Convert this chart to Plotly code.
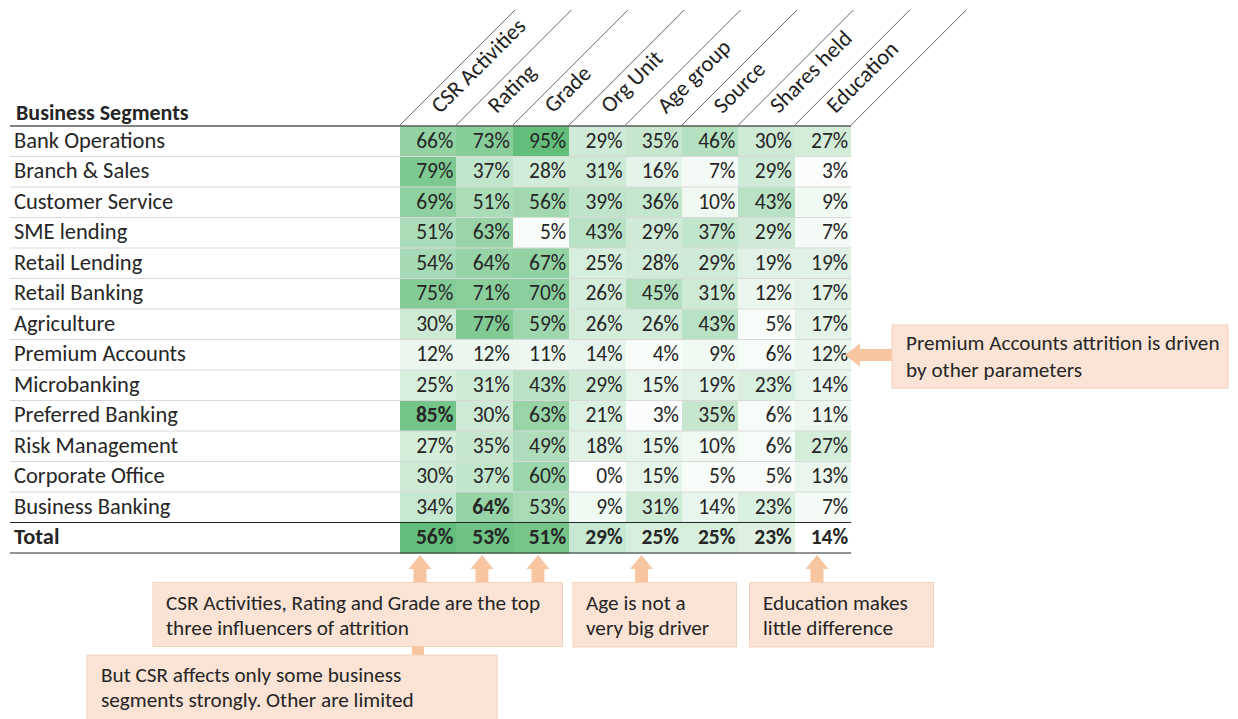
import plotly.graph_objects as go

# ---- data -------------------------------------------------------------
segments = ["Bank Operations", "Branch & Sales", "Customer Service", "SME lending",
            "Retail Lending", "Retail Banking", "Agriculture", "Premium Accounts",
            "Microbanking", "Preferred Banking", "Risk Management", "Corporate Office",
            "Business Banking"]
factors = ["CSR Activities", "Rating", "Grade", "Org Unit", "Age group", "Source",
           "Shares held", "Education"]

csr_activities = [66, 79, 69, 51, 54, 75, 30, 12, 25, 85, 27, 30, 34]
rating = [73, 37, 51, 63, 64, 71, 77, 12, 31, 30, 35, 37, 64]
grade = [95, 28, 56, 5, 67, 70, 59, 11, 43, 63, 49, 60, 53]
org_unit = [29, 31, 39, 43, 25, 26, 26, 14, 29, 21, 18, 0, 9]
age_group = [35, 16, 36, 29, 28, 45, 26, 4, 15, 3, 15, 15, 31]
source = [46, 7, 10, 37, 29, 31, 43, 9, 19, 35, 10, 5, 14]
shares_held = [30, 29, 43, 29, 19, 12, 5, 6, 23, 6, 6, 5, 23]
education = [27, 3, 9, 7, 19, 17, 17, 12, 14, 11, 27, 13, 7]
totals = [56, 53, 51, 29, 25, 25, 23, 14]

highlighted = [("Preferred Banking", "CSR Activities"), ("Business Banking", "Rating")]

callout_top = ["CSR Activities, Rating and Grade are the top", "three influencers of attrition"]
callout_age = ["Age is not a", "very big driver"]
callout_edu = ["Education makes", "little difference"]
callout_csr = ["But CSR affects only some business", "segments strongly. Other are limited"]
callout_premium = ["Premium Accounts attrition is driven", "by other parameters"]

# ---- layout constants -------------------------------------------------
W, H = 1238, 719
FONT = "Calibri, Carlito, Lato, sans-serif"
TXT = "#262626"
GREEN = "#63BE7B"
ARROW = "#F7C6A0"
BOX_FILL = "#FBE4D5"
BOX_LINE = "#F3D2B8"
FS_VAL = 21.5
FS_LBL = 22.5

label_x = 14
col_x0, col_w = 400.0, 56.4
row_y0, row_h = 126.0, 30.5
n_cols, n_rows = len(factors), len(segments)
table_left = 10
table_right = col_x0 + n_cols * col_w
total_top = row_y0 + n_rows * row_h
total_bottom = total_top + row_h

columns = [csr_activities, rating, grade, org_unit, age_group, source, shares_held, education]
z = [[columns[j][i] for j in range(n_cols)] for i in range(n_rows)]
flat = [v for row in z for v in row]

fig = go.Figure()

# body heat map (one colour scale over all segments)
fig.add_trace(go.Heatmap(
    z=z, x0=col_x0 + col_w / 2, dx=col_w, y0=row_y0 + row_h / 2, dy=row_h,
    zmin=min(flat), zmax=max(flat),
    colorscale=[[0, "#FFFFFF"], [1, GREEN]], showscale=False, hoverinfo="skip"))

# total row has its own scale
fig.add_trace(go.Heatmap(
    z=[totals], x0=col_x0 + col_w / 2, dx=col_w, y0=total_top + row_h / 2, dy=row_h,
    zmin=min(totals), zmax=max(totals),
    colorscale=[[0, "#FFFFFF"], [1, GREEN]], showscale=False, hoverinfo="skip"))

# cell values, right aligned in each cell
vx, vy, vt = [], [], []
for i, seg in enumerate(segments):
    for j, fac in enumerate(factors):
        s = f"{z[i][j]}%"
        if (seg, fac) in highlighted:
            s = f"<b>{s}</b>"
        vx.append(col_x0 + (j + 1) * col_w - 3)
        vy.append(row_y0 + (i + 0.5) * row_h + 1)
        vt.append(s)
for j, v in enumerate(totals):
    vx.append(col_x0 + (j + 1) * col_w - 3)
    vy.append(total_top + row_h / 2 + 1)
    vt.append(f"<b>{v}%</b>")
fig.add_trace(go.Scatter(x=vx, y=vy, text=vt, mode="text", textposition="middle left",
                         textfont=dict(family=FONT, size=FS_VAL, color=TXT),
                         hoverinfo="skip", showlegend=False))

# row labels
lx = [label_x] * (n_rows + 1)
ly = [row_y0 + (i + 0.5) * row_h + 1 for i in range(n_rows)] + [total_top + row_h / 2 + 1]
lt = segments + ["<b>Total</b>"]
fig.add_trace(go.Scatter(x=lx, y=ly, text=lt, mode="text", textposition="middle right",
                         textfont=dict(family=FONT, size=FS_LBL, color=TXT),
                         hoverinfo="skip", showlegend=False))

shapes = []
annotations = []

# row separators
for i in range(1, n_rows):
    y = row_y0 + i * row_h
    shapes.append(dict(type="line", x0=table_left, x1=table_right, y0=y, y1=y,
                       line=dict(color="#D9D9D9", width=1)))
# header rule and total rules
shapes.append(dict(type="line", x0=table_left, x1=table_right, y0=row_y0, y1=row_y0,
                   line=dict(color="#595959", width=1.6)))
for y in (total_top, total_bottom):
    shapes.append(dict(type="line", x0=table_left, x1=table_right, y0=y, y1=y,
                       line=dict(color="#262626", width=1.2)))

# slanted header borders
slant_h = 115
for k in range(n_cols + 1):
    x = col_x0 + k * col_w
    shapes.append(dict(type="line", x0=x, y0=row_y0 - 1, x1=x + slant_h, y1=row_y0 - 1 - slant_h,
                       line=dict(color="#404040", width=0.8)))

# slanted header labels
for k, name in enumerate(factors):
    x = col_x0 + k * col_w
    annotations.append(dict(text=name, x=x + 24, y=row_y0 - 6, xref="x", yref="y",
                            xanchor="left", yanchor="bottom", textangle=-45,
                            showarrow=False, borderpad=0,
                            font=dict(family=FONT, size=22.5, color="#1f1f1f")))

annotations.append(dict(text="<b>Business Segments</b>", x=label_x, y=112, xref="x", yref="y",
                        xanchor="left", yanchor="middle", showarrow=False,
                        font=dict(family=FONT, size=22, color=TXT)))


def box(x0, y0, x1, y1):
    shapes.append(dict(type="rect", x0=x0, x1=x1, y0=y0, y1=y1, fillcolor=BOX_FILL,
                       line=dict(color=BOX_LINE, width=1), layer="above"))


def box_text(lines, x, y_first, step, size=21.2):
    for n, line in enumerate(lines):
        annotations.append(dict(text=line, x=x, y=y_first + n * step, xref="x", yref="y",
                                xanchor="left", yanchor="middle", align="left",
                                showarrow=False,
                                font=dict(family=FONT, size=size, color=TXT)))


def up_arrow(cx, tip, base, shaft=13, head=23, head_len=14):
    hs, hh = shaft / 2, head / 2
    p = (f"M {cx} {tip} L {cx + hh} {tip + head_len} L {cx + hs} {tip + head_len} "
         f"L {cx + hs} {base} L {cx - hs} {base} L {cx - hs} {tip + head_len} "
         f"L {cx - hh} {tip + head_len} Z")
    shapes.append(dict(type="path", path=p, fillcolor=ARROW, line=dict(width=0), layer="above"))


def left_arrow(tip, cy, base, shaft=12, head=23, head_len=15):
    hs, hh = shaft / 2, head / 2
    p = (f"M {tip} {cy} L {tip + head_len} {cy - hh} L {tip + head_len} {cy - hs} "
         f"L {base} {cy - hs} L {base} {cy + hs} L {tip + head_len} {cy + hs} "
         f"L {tip + head_len} {cy + hh} Z")
    shapes.append(dict(type="path", path=p, fillcolor=ARROW, line=dict(width=0), layer="above"))


# callouts below the table
for cx in (420, 482, 538):
    up_arrow(cx, 555, 583)
up_arrow(641.5, 555, 583)
up_arrow(817, 555, 583)
box(153, 582.5, 562.5, 646.5)
box_text(callout_top, 164, 603, 25)
box(573, 582.5, 736.5, 647)
box_text(callout_age, 584, 603, 25)
box(749.5, 582.5, 933.5, 647)
box_text(callout_edu, 761, 603, 25)

shapes.append(dict(type="rect", x0=412, x1=424, y0=646.5, y1=655.5, fillcolor=ARROW,
                   line=dict(width=0), layer="above"))
box(87, 655, 497, 722)
box_text(callout_csr, 99, 675, 25)

# callout at the right of the Premium Accounts row
left_arrow(845, 355, 892)
box(892, 325, 1228, 388)
box_text(callout_premium, 904, 343, 27, size=21.2)

fig.update_layout(
    width=W, height=H, margin=dict(l=0, r=0, t=0, b=0),
    paper_bgcolor="white", plot_bgcolor="white",
    xaxis=dict(range=[0, W], visible=False, fixedrange=True),
    yaxis=dict(range=[H, 0], visible=False, fixedrange=True),
    shapes=shapes, annotations=annotations, showlegend=False,
)

fig.write_html("out.html")
